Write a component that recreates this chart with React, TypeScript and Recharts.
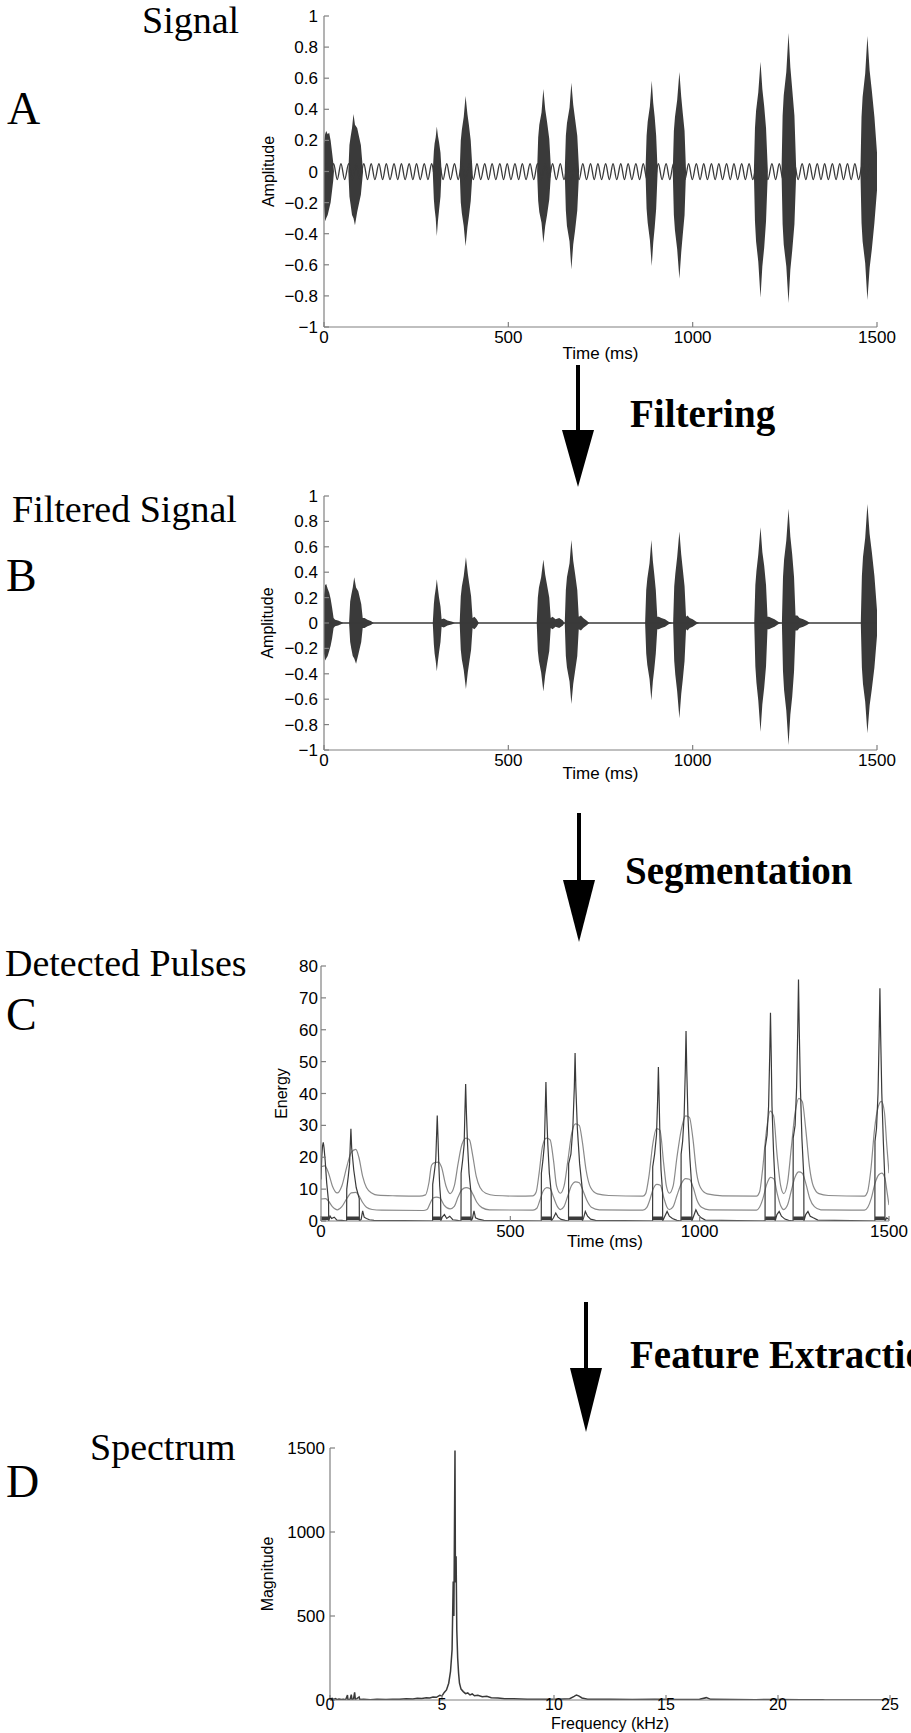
import React from 'react';
import { ComposedChart, Line, Area, XAxis, YAxis } from 'recharts';

// ---------- axes ----------
const timeTicks = [0, 500, 1000, 1500];
const ampTicks = [-1, -0.8, -0.6, -0.4, -0.2, 0, 0.2, 0.4, 0.6, 0.8, 1];
const energyTicks = [0, 10, 20, 30, 40, 50, 60, 70, 80];
const freqTicks = [0, 5, 10, 15, 20, 25];
const magTicks = [0, 500, 1000, 1500];

// ---------- A: raw signal ----------
// low-frequency hum under the pulses: crest / trough times (ms)
const humCrests = [
  5, 26, 46, 67, 87, 108, 128, 149, 169, 190, 210, 231, 251, 272, 292, 313, 333, 354, 374, 395,
  415, 436, 456, 477, 497, 518, 538, 559, 579, 600, 620, 641, 661, 682, 702, 723, 743, 764, 784,
  805, 825, 846, 866, 887, 907, 928, 948, 969, 989, 1010, 1030, 1051, 1071, 1092, 1112, 1133,
  1153, 1174, 1194, 1215, 1235, 1256, 1276, 1297, 1317, 1338, 1358, 1379, 1399, 1420, 1440,
  1461, 1481,
];
const humTroughs = [
  15, 36, 56, 77, 97, 118, 138, 159, 179, 200, 220, 241, 261, 282, 302, 323, 343, 364, 384, 405,
  425, 446, 466, 487, 507, 528, 548, 569, 589, 610, 630, 651, 671, 692, 712, 733, 753, 774, 794,
  815, 835, 856, 876, 897, 917, 938, 958, 979, 999, 1020, 1040, 1061, 1081, 1102, 1122, 1143,
  1163, 1184, 1204, 1225, 1245, 1266, 1286, 1307, 1327, 1348, 1368, 1389, 1409, 1430, 1450,
  1471, 1491,
];
const humLevels = [0.05, -0.052];

// pulse envelopes of the raw signal: [time, low, high]
const rawBursts: [number, number, number][] = [
  [0, -0.22, 0.18], [3, -0.32, 0.24], [6, -0.3, 0.26], [10, -0.28, 0.24], [14, -0.24, 0.25], [18, -0.2, 0.2], [22, -0.12, 0.12], [25, -0.06, 0.06], [27, 0, 0],
  [66, 0, 0], [69, -0.16, 0.17], [72, -0.21, 0.22], [76, -0.28, 0.28], [80, -0.3, 0.37], [84, -0.345, 0.3], [90, -0.26, 0.28], [100, -0.15, 0.17], [106, 0, 0],
  [295, 0, 0], [298, -0.18, 0.13], [300, -0.24, 0.18], [303, -0.3, 0.22], [306, -0.415, 0.29], [309, -0.32, 0.23], [312, -0.25, 0.19], [316, -0.16, 0.12], [319, 0, 0],
  [368, 0, 0], [371, -0.2, 0.2], [374, -0.27, 0.27], [379, -0.35, 0.35], [384, -0.48, 0.486], [389, -0.36, 0.37], [393, -0.29, 0.3], [398, -0.19, 0.2], [403, 0, 0],
  [578, 0, 0], [581, -0.19, 0.22], [584, -0.26, 0.3], [590, -0.33, 0.38], [595, -0.46, 0.53], [600, -0.35, 0.4], [605, -0.28, 0.32], [611, -0.18, 0.21], [616, 0, 0],
  [653, 0, 0], [656, -0.25, 0.23], [659, -0.35, 0.31], [666, -0.45, 0.41], [671, -0.63, 0.57], [676, -0.47, 0.43], [681, -0.38, 0.34], [687, -0.25, 0.23], [692, 0, 0],
  [872, 0, 0], [875, -0.24, 0.23], [878, -0.33, 0.32], [884, -0.44, 0.42], [889, -0.608, 0.584], [893, -0.46, 0.44], [897, -0.36, 0.35], [901, -0.24, 0.23], [905, 0, 0],
  [946, 0, 0], [949, -0.28, 0.26], [952, -0.38, 0.35], [958, -0.5, 0.46], [964, -0.69, 0.64], [969, -0.52, 0.48], [973, -0.41, 0.38], [978, -0.28, 0.26], [982, 0, 0],
  [1166, 0, 0], [1169, -0.32, 0.28], [1172, -0.45, 0.39], [1178, -0.58, 0.51], [1184, -0.81, 0.706], [1189, -0.61, 0.53], [1194, -0.49, 0.42], [1199, -0.32, 0.28], [1204, 0, 0],
  [1241, 0, 0], [1244, -0.34, 0.36], [1247, -0.47, 0.49], [1254, -0.61, 0.64], [1260, -0.846, 0.89], [1265, -0.63, 0.67], [1270, -0.51, 0.53], [1276, -0.34, 0.36], [1281, 0, 0],
  [1455, 0, 0], [1458, -0.33, 0.35], [1461, -0.45, 0.48], [1468, -0.59, 0.63], [1474, -0.826, 0.871], [1480, -0.62, 0.65], [1486, -0.5, 0.52], [1493, -0.33, 0.35], [1500, -0.12, 0.12],
];

// ---------- B: filtered signal ----------
const filteredFloor: [number, number][] = [[0, 0], [1500, 0]];
const filteredBursts: [number, number, number][] = [
  [0, -0.24, 0.22], [3, -0.295, 0.3], [6, -0.28, 0.307], [10, -0.26, 0.27], [14, -0.22, 0.24], [18, -0.18, 0.19], [22, -0.12, 0.12], [26, -0.04, 0.04], [30, -0.025, 0.025], [38, -0.02, 0.02], [46, -0.01, 0.01], [52, 0, 0],
  [68, 0, 0], [71, -0.15, 0.17], [74, -0.2, 0.22], [78, -0.26, 0.28], [82, -0.28, 0.36], [87, -0.32, 0.28], [93, -0.25, 0.25], [101, -0.15, 0.15], [105, -0.04, 0.04], [110, -0.04, 0.04], [118, -0.025, 0.025], [127, -0.015, 0.015], [135, 0, 0],
  [295, 0, 0], [298, -0.17, 0.15], [300, -0.24, 0.21], [303, -0.3, 0.27], [306, -0.38, 0.344], [309, -0.3, 0.27], [312, -0.23, 0.2], [316, -0.15, 0.13], [319, -0.03, 0.03], [325, -0.035, 0.035], [335, -0.02, 0.02], [348, -0.01, 0.01], [355, 0, 0],
  [368, 0, 0], [371, -0.21, 0.21], [374, -0.29, 0.29], [379, -0.37, 0.37], [385, -0.52, 0.517], [390, -0.39, 0.39], [394, -0.31, 0.31], [399, -0.21, 0.21], [403, -0.04, 0.04], [408, -0.05, 0.05], [414, -0.03, 0.03], [420, 0, 0],
  [577, 0, 0], [580, -0.22, 0.2], [583, -0.3, 0.28], [589, -0.39, 0.36], [595, -0.54, 0.5], [600, -0.41, 0.38], [605, -0.32, 0.3], [611, -0.22, 0.2], [615, -0.04, 0.04], [620, -0.05, 0.05], [628, -0.03, 0.03], [638, -0.04, 0.04], [648, -0.02, 0.02], [652, 0, 0],
  [653, 0, 0], [656, -0.26, 0.26], [659, -0.35, 0.36], [666, -0.46, 0.47], [671, -0.638, 0.654], [676, -0.48, 0.49], [681, -0.38, 0.39], [687, -0.26, 0.26], [691, -0.05, 0.05], [697, -0.06, 0.06], [703, -0.04, 0.04], [712, -0.02, 0.02], [720, 0, 0],
  [871, 0, 0], [874, -0.24, 0.26], [877, -0.33, 0.35], [883, -0.44, 0.47], [888, -0.61, 0.654], [892, -0.46, 0.49], [896, -0.36, 0.38], [900, -0.24, 0.26], [904, -0.05, 0.05], [908, -0.05, 0.05], [915, -0.04, 0.04], [925, -0.03, 0.03], [935, -0.01, 0.01], [945, 0, 0],
  [947, 0, 0], [950, -0.3, 0.29], [953, -0.41, 0.39], [958, -0.54, 0.52], [964, -0.75, 0.72], [969, -0.56, 0.54], [973, -0.45, 0.43], [978, -0.3, 0.29], [982, -0.05, 0.05], [986, -0.06, 0.06], [992, -0.04, 0.04], [1000, -0.03, 0.03], [1010, -0.01, 0.01], [1018, 0, 0],
  [1167, 0, 0], [1170, -0.34, 0.3], [1173, -0.47, 0.41], [1178, -0.61, 0.54], [1184, -0.856, 0.753], [1189, -0.64, 0.56], [1194, -0.51, 0.45], [1199, -0.34, 0.3], [1203, -0.05, 0.05], [1207, -0.05, 0.05], [1214, -0.04, 0.04], [1222, -0.03, 0.03], [1232, -0.01, 0.01], [1240, 0, 0],
  [1242, 0, 0], [1245, -0.38, 0.36], [1248, -0.53, 0.5], [1254, -0.69, 0.65], [1260, -0.96, 0.9], [1265, -0.72, 0.68], [1270, -0.58, 0.54], [1275, -0.38, 0.36], [1279, -0.06, 0.06], [1284, -0.06, 0.06], [1290, -0.04, 0.04], [1300, -0.03, 0.03], [1310, -0.015, 0.015], [1318, 0, 0],
  [1456, 0, 0], [1459, -0.35, 0.37], [1462, -0.48, 0.52], [1468, -0.62, 0.67], [1474, -0.868, 0.937], [1480, -0.65, 0.7], [1486, -0.52, 0.56], [1493, -0.35, 0.37], [1500, -0.1, 0.1],
];

// ---------- C: detected pulses ----------
const energyUpper: [number, number][] = [
  [0, 17], [10, 17.3], [20, 15], [30, 11], [43, 8.8], [55, 11], [68, 17], [80, 21.5], [92, 22.5], [100, 20], [110, 14], [120, 10.5], [135, 8.7], [150, 8.1], [200, 7.9], [260, 7.8],
  [276, 8.2], [285, 12], [292, 17.5], [300, 18.3], [310, 18.5], [318, 17], [330, 11], [341, 8.6], [352, 11], [362, 18], [372, 24], [383, 26], [392, 25.5], [400, 21], [410, 14], [420, 10.5], [435, 8.7], [460, 8], [520, 7.8],
  [560, 7.9], [568, 9], [576, 15], [585, 23.5], [595, 26], [605, 25.5], [614, 19], [622, 11], [632, 8.7], [642, 11], [652, 19], [662, 27.5], [672, 30.5], [682, 30], [690, 25], [700, 16], [712, 10.5], [730, 8.5], [760, 8], [850, 7.8],
  [857, 8.5], [866, 14], [876, 24], [886, 29], [895, 28.5], [905, 18], [912, 11], [920, 8.7], [930, 11], [940, 20], [952, 29], [963, 33], [973, 32.5], [982, 26], [992, 15], [1002, 10.5], [1020, 8.5], [1060, 7.9], [1150, 7.8],
  [1158, 9], [1166, 16], [1176, 28], [1186, 34.5], [1195, 33], [1205, 20], [1214, 11], [1222, 8.6], [1232, 12], [1242, 23], [1252, 34], [1262, 38.5], [1271, 37.5], [1280, 29], [1290, 17], [1300, 11], [1315, 8.6], [1340, 8], [1435, 7.8],
  [1443, 9], [1452, 16], [1462, 29], [1472, 36], [1480, 37.5], [1488, 34], [1494, 24], [1500, 15],
];
const energyMiddle: [number, number][] = [
  [0, 6.9], [12, 7], [20, 6.2], [30, 4.5], [43, 3.5], [55, 4.5], [68, 7], [80, 8.8], [92, 9], [100, 8], [110, 5.8], [120, 4.3], [135, 3.6], [160, 3.4], [270, 3.3],
  [280, 3.6], [288, 5.5], [296, 7.2], [305, 7.5], [314, 7.2], [325, 5], [341, 3.8], [352, 4.6], [362, 7.5], [372, 9.8], [383, 10.5], [392, 10.2], [402, 8.2], [412, 5.8], [425, 4.2], [445, 3.5], [560, 3.4],
  [570, 4], [578, 6.5], [587, 9.5], [596, 10.5], [605, 10.2], [614, 7.5], [624, 4.6], [632, 3.6], [642, 4.6], [652, 8], [662, 11.2], [672, 12.3], [682, 12], [692, 9.5], [702, 6.5], [714, 4.3], [735, 3.5], [850, 3.4],
  [860, 4.2], [868, 6.5], [877, 10], [887, 11.5], [896, 11.2], [906, 7], [913, 4.5], [920, 3.6], [930, 4.5], [940, 8], [952, 11.8], [963, 13.3], [973, 13.1], [983, 10.5], [993, 6.5], [1005, 4.3], [1025, 3.5], [1150, 3.4],
  [1158, 4.3], [1167, 7], [1177, 11.5], [1187, 13.7], [1196, 13.2], [1205, 8.5], [1214, 4.8], [1222, 3.6], [1232, 5], [1242, 9.5], [1252, 13.8], [1262, 15.4], [1271, 15], [1281, 11.5], [1291, 7], [1303, 4.5], [1320, 3.5], [1435, 3.4],
  [1444, 4.3], [1453, 7], [1463, 11.8], [1473, 14.5], [1481, 15], [1489, 13.5], [1495, 9], [1500, 5],
];
const energyPeaks: [number, number][] = [
  [0, 13], [2, 20], [4, 23.5], [6, 24.7], [8, 23], [11, 19], [15, 12], [20, 6], [20.3, 0], [24, 1.5], [28, 0.8], [35, 1.2], [42, 0.3], [55, 0.2],
  [67.7, 0], [68, 10], [72, 14], [75.5, 18], [77, 23], [79, 28.9], [81, 23], [86.5, 16], [93, 10.5], [101, 7], [101.3, 0], [106, 0.5], [110, 3.2], [114, 1.2], [120, 0.8], [128, 0.4], [140, 0.2], [220, 0.1],
  [294.7, 0], [295, 11.5], [299, 15], [303, 19], [305, 26], [307, 33.1], [309, 26], [311, 18], [313.5, 11], [316, 7], [316.3, 0], [320, 1.2], [326, 2], [332, 0.8], [340, 1.5], [348, 0.4], [360, 0.2],
  [369.7, 0], [370, 15], [374, 19], [378, 24], [380, 34], [382, 43], [384, 34], [387, 24], [391, 15], [396, 9], [396.3, 0], [400, 0.8], [404, 3.2], [408, 1], [416, 0.6], [430, 0.2], [500, 0.1],
  [581.7, 0], [582, 15], [586, 19], [590, 24], [592, 34], [594, 43.6], [596, 34], [599, 24], [603, 15], [608, 9], [608.3, 0], [614, 1], [620, 2.5], [626, 1.2], [634, 0.5], [645, 0.2],
  [653.7, 0], [654, 18], [660, 21], [665, 29], [669, 42], [671, 52.7], [673, 42], [677, 29], [683, 18], [690, 10], [690.3, 0], [694, 1.2], [698, 3], [704, 1.5], [712, 0.6], [725, 0.2], [800, 0.1],
  [875.7, 0], [876, 17], [881, 21], [886, 27], [889, 38], [891, 48.3], [893, 38], [895, 27], [898, 16], [902, 9], [902.3, 0], [908, 1.5], [914, 3], [920, 1.5], [928, 0.8], [940, 0.2],
  [950.7, 0], [951, 21], [955, 25], [959, 33], [962, 47], [964, 59.6], [966, 47], [969, 33], [974, 20], [979, 11], [979.3, 0], [984, 1.5], [990, 3.5], [996, 2], [1004, 1], [1015, 0.3], [1100, 0.1],
  [1172.7, 0], [1173, 23], [1178, 27], [1182, 36], [1185, 52], [1187, 65.3], [1189, 52], [1191, 36], [1195, 22], [1199, 12], [1199.3, 0], [1204, 2], [1210, 3], [1216, 1.5], [1225, 0.6], [1235, 0.2],
  [1246.7, 0], [1247, 26], [1252, 30], [1256, 42], [1259, 60], [1261, 75.8], [1263, 60], [1266, 42], [1270, 26], [1275, 14], [1275.3, 0], [1280, 2], [1286, 3], [1292, 1.5], [1300, 1], [1312, 0.3], [1400, 0.1],
  [1462.7, 0], [1463, 25], [1467, 29], [1471, 40], [1474, 58], [1476, 73], [1478, 58], [1481, 40], [1485, 25], [1489, 13], [1489.3, 0], [1494, 1], [1500, 0.5],
];
// detected segments (ms) and the level of the marker bars
const segments: [number, number][] = [
  [0, 20], [68, 101], [295, 316], [370, 396], [582, 608], [654, 690], [876, 902], [951, 979], [1173, 1199], [1247, 1275], [1463, 1489],
];
const segmentLevel = 0.9;

// ---------- D: spectrum ----------
const spectrum: [number, number][] = [
  [0, 6], [0.1, 10], [0.15, 3], [0.25, 8], [0.3, 2], [0.4, 6], [0.5, 3], [0.6, 5], [0.7, 2], [0.78, 30], [0.8, 3], [0.9, 5], [0.95, 32], [0.98, 4], [1.05, 6], [1.1, 45], [1.13, 5], [1.2, 8], [1.3, 18], [1.33, 3],
  [1.5, 4], [1.8, 2], [2.1, 4], [2.5, 3], [2.8, 5], [3.1, 4], [3.4, 7], [3.7, 6], [3.9, 10], [4.1, 9], [4.3, 14], [4.45, 12], [4.6, 18], [4.75, 16], [4.9, 28], [5.0, 24], [5.1, 45],
  [5.2, 60], [5.3, 100], [5.38, 170], [5.45, 300], [5.5, 705], [5.53, 500], [5.58, 1485], [5.6, 700], [5.63, 855], [5.66, 420], [5.7, 250], [5.74, 160], [5.78, 100], [5.85, 65], [5.95, 50],
  [6.05, 38], [6.15, 42], [6.25, 30], [6.35, 36], [6.45, 25], [6.6, 28], [6.8, 20], [7.0, 22], [7.2, 14], [7.5, 12], [7.8, 8], [8.2, 7], [8.8, 5], [9.5, 4],
  [10.2, 5], [10.7, 8], [10.9, 22], [11.0, 30], [11.1, 25], [11.25, 12], [11.5, 5], [12.5, 4], [13.5, 3], [14.5, 4], [15.5, 3], [16.5, 4], [16.8, 14], [17.0, 4], [18, 3], [19, 2], [20, 3], [21, 2], [22, 2], [22.1, 0], [25, 0],
];

// ---------- rows for the library ----------
const humRows = [
  ...humCrests.map((t) => ({ t, v: humLevels[0] })),
  ...humTroughs.map((t) => ({ t, v: humLevels[1] })),
].sort((a, b) => a.t - b.t);
const rawRows = rawBursts.map(([t, lo, hi]) => ({ t, range: [lo, hi] }));
const filteredRows = filteredBursts.map(([t, lo, hi]) => ({ t, range: [lo, hi] }));
const floorRows = filteredFloor.map(([t, v]) => ({ t, v }));
const upperRows = energyUpper.map(([t, v]) => ({ t, v }));
const middleRows = energyMiddle.map(([t, v]) => ({ t, v }));
const peakRows = energyPeaks.map(([t, v]) => ({ t, v }));
const segmentRows = segments.flatMap(([s, e]) => [
  { t: s, v: segmentLevel },
  { t: e, v: segmentLevel },
  { t: e + 1, v: null },
]);
const spectrumRows = spectrum.map(([t, v]) => ({ t, v }));

// ---------- styling ----------
const SANS = '"Liberation Sans", Arial, Helvetica, sans-serif';
const SERIF = '"Liberation Serif", "Times New Roman", serif';
const FRAME = '#808080';
const INK = '#3a3a3a';
const GREY = '#8a8a8a';
const frameLine = { stroke: FRAME, strokeWidth: 1.2 };
const minus = (v: number) => (v < 0 ? '\u2212' + String(Math.abs(v)) : String(v));

type AxesCfg = {
  xDomain: [number, number];
  xTicks: number[];
  yDomain: [number, number];
  yTicks: number[];
  xLabel: string;
  yLabel: string;
  xHeight: number;
  xTickMargin: number;
  yTickMargin: number;
  xLabelOffset: number;
  yLabelOffset: number;
  fontSize?: number;
  fmt?: (v: number) => string;
};

function frameAxes(c: AxesCfg) {
  const fs = c.fontSize ?? 17;
  const tickStyle = { fontSize: fs, fill: '#000', fontFamily: SANS };
  return [
    <XAxis
      key="xb"
      dataKey="t"
      type="number"
      domain={c.xDomain}
      ticks={c.xTicks}
      interval={0}
      allowDataOverflow
      height={c.xHeight}
      tickSize={-5}
      tickMargin={c.xTickMargin}
      tick={tickStyle}
      tickLine={frameLine}
      axisLine={frameLine}
      label={{ value: c.xLabel, position: 'insideBottom', offset: c.xLabelOffset, style: { fontSize: fs, fill: '#000', fontFamily: SANS } }}
    />,
    <XAxis
      key="xt"
      xAxisId="top"
      orientation="top"
      dataKey="t"
      type="number"
      domain={c.xDomain}
      ticks={c.xTicks}
      interval={0}
      allowDataOverflow
      height={0}
      tickSize={-5}
      tick={false}
      tickLine={frameLine}
      axisLine={frameLine}
    />,
    <YAxis
      key="yl"
      type="number"
      domain={c.yDomain}
      ticks={c.yTicks}
      interval={0}
      allowDataOverflow
      width={70}
      tickSize={-5}
      tickMargin={c.yTickMargin}
      tick={{ fontSize: 17, fill: '#000', fontFamily: SANS }}
      tickFormatter={c.fmt}
      tickLine={frameLine}
      axisLine={frameLine}
      label={{ value: c.yLabel, angle: -90, position: 'insideLeft', offset: c.yLabelOffset, style: { fontSize: 16, fill: '#000', fontFamily: SANS, textAnchor: 'middle' } }}
    />,
    <YAxis
      key="yr"
      yAxisId="right"
      orientation="right"
      type="number"
      domain={c.yDomain}
      ticks={c.yTicks}
      interval={0}
      allowDataOverflow
      width={0}
      tickSize={-5}
      tick={false}
      tickLine={frameLine}
      axisLine={frameLine}
    />,
  ];
}

const Arrow = ({ x, y1, y2, tip }: { x: number; y1: number; y2: number; tip: number }) => (
  <g>
    <line x1={x} x2={x} y1={y1} y2={y2 + 2} stroke="#000" strokeWidth={4} />
    <polygon points={`${x - 16},${y2} ${x + 16},${y2} ${x},${tip}`} fill="#000" />
  </g>
);

export default function App() {
  return (
    <div style={{ position: 'absolute', left: 0, top: 0, width: 911, height: 1733, background: '#fff', overflow: 'hidden' }}>
      {/* A: signal */}
      <div style={{ position: 'absolute', left: 0, top: 0 }}>
        <ComposedChart width={911} height={370} margin={{ top: 16, right: 34, bottom: 3, left: 254 }}>
          {frameAxes({
            xDomain: [0, 1500], xTicks: timeTicks, yDomain: [-1, 1], yTicks: ampTicks,
            xLabel: 'Time (ms)', yLabel: 'Amplitude', xHeight: 40, xTickMargin: 9, yTickMargin: 11,
            xLabelOffset: 8, yLabelOffset: 14, fmt: minus,
          })}
          <Line data={humRows} dataKey="v" type="monotone" stroke={INK} strokeWidth={1.3} dot={false} activeDot={false} isAnimationActive={false} />
          <Area data={rawRows} dataKey="range" type="linear" stroke="none" fill={INK} fillOpacity={1} activeDot={false} isAnimationActive={false} />
        </ComposedChart>
      </div>

      {/* B: filtered signal */}
      <div style={{ position: 'absolute', left: 0, top: 480 }}>
        <ComposedChart width={911} height={310} margin={{ top: 16, right: 34, bottom: 0, left: 254 }}>
          {frameAxes({
            xDomain: [0, 1500], xTicks: timeTicks, yDomain: [-1, 1], yTicks: ampTicks,
            xLabel: 'Time (ms)', yLabel: 'Amplitude', xHeight: 40, xTickMargin: 9, yTickMargin: 11,
            xLabelOffset: 11, yLabelOffset: 13, fmt: minus,
          })}
          <Line data={floorRows} dataKey="v" type="linear" stroke={INK} strokeWidth={1.3} dot={false} activeDot={false} isAnimationActive={false} />
          <Area data={filteredRows} dataKey="range" type="linear" stroke="none" fill={INK} fillOpacity={1} activeDot={false} isAnimationActive={false} />
        </ComposedChart>
      </div>

      {/* C: detected pulses */}
      <div style={{ position: 'absolute', left: 0, top: 950 }}>
        <ComposedChart width={911} height={320} margin={{ top: 16, right: 22, bottom: 9, left: 251 }}>
          {frameAxes({
            xDomain: [0, 1500], xTicks: timeTicks, yDomain: [0, 80], yTicks: energyTicks,
            xLabel: 'Time (ms)', yLabel: 'Energy', xHeight: 40, xTickMargin: 9, yTickMargin: 8,
            xLabelOffset: 14, yLabelOffset: 30,
          })}
          <Line data={upperRows} dataKey="v" type="monotone" stroke={GREY} strokeWidth={1.2} dot={false} activeDot={false} isAnimationActive={false} />
          <Line data={middleRows} dataKey="v" type="monotone" stroke={GREY} strokeWidth={1.2} dot={false} activeDot={false} isAnimationActive={false} />
          <Line data={peakRows} dataKey="v" type="linear" stroke={INK} strokeWidth={1.2} dot={false} activeDot={false} isAnimationActive={false} />
          <Line data={segmentRows} dataKey="v" type="linear" stroke={INK} strokeWidth={3.5} dot={false} activeDot={false} connectNulls={false} isAnimationActive={false} />
        </ComposedChart>
      </div>

      {/* D: spectrum */}
      <div style={{ position: 'absolute', left: 0, top: 1430 }}>
        <ComposedChart width={911} height={303} margin={{ top: 18, right: 21, bottom: 3, left: 260 }}>
          {frameAxes({
            xDomain: [0, 25], xTicks: freqTicks, yDomain: [0, 1500], yTicks: magTicks,
            xLabel: 'Frequency (kHz)', yLabel: 'Magnitude', xHeight: 30, xTickMargin: 4, yTickMargin: 10,
            xLabelOffset: 1, yLabelOffset: 7, fontSize: 16,
          })}
          <Line data={spectrumRows} dataKey="v" type="linear" stroke={INK} strokeWidth={1.5} dot={false} activeDot={false} isAnimationActive={false} />
        </ComposedChart>
      </div>

      {/* panel titles, letters and process arrows */}
      <svg width={911} height={1733} style={{ position: 'absolute', left: 0, top: 0, pointerEvents: 'none' }}>
        <g fontFamily={SERIF} fill="#000">
          <text x={142} y={33} fontSize={38}>Signal</text>
          <text x={7} y={124} fontSize={46}>A</text>
          <text x={12} y={522} fontSize={38}>Filtered Signal</text>
          <text x={6} y={591} fontSize={46}>B</text>
          <text x={5} y={976} fontSize={38}>Detected Pulses</text>
          <text x={6} y={1030} fontSize={46}>C</text>
          <text x={90} y={1460} fontSize={38}>Spectrum</text>
          <text x={6} y={1497} fontSize={46}>D</text>
          <text x={630} y={427} fontSize={39} fontWeight="bold">Filtering</text>
          <text x={625} y={884} fontSize={39} fontWeight="bold">Segmentation</text>
          <text x={630} y={1368} fontSize={39} fontWeight="bold">Feature Extraction</text>
        </g>
        <Arrow x={578} y1={365} y2={430} tip={487} />
        <Arrow x={579} y1={813} y2={880} tip={942} />
        <Arrow x={586} y1={1302} y2={1368} tip={1432} />
      </svg>
    </div>
  );
}
